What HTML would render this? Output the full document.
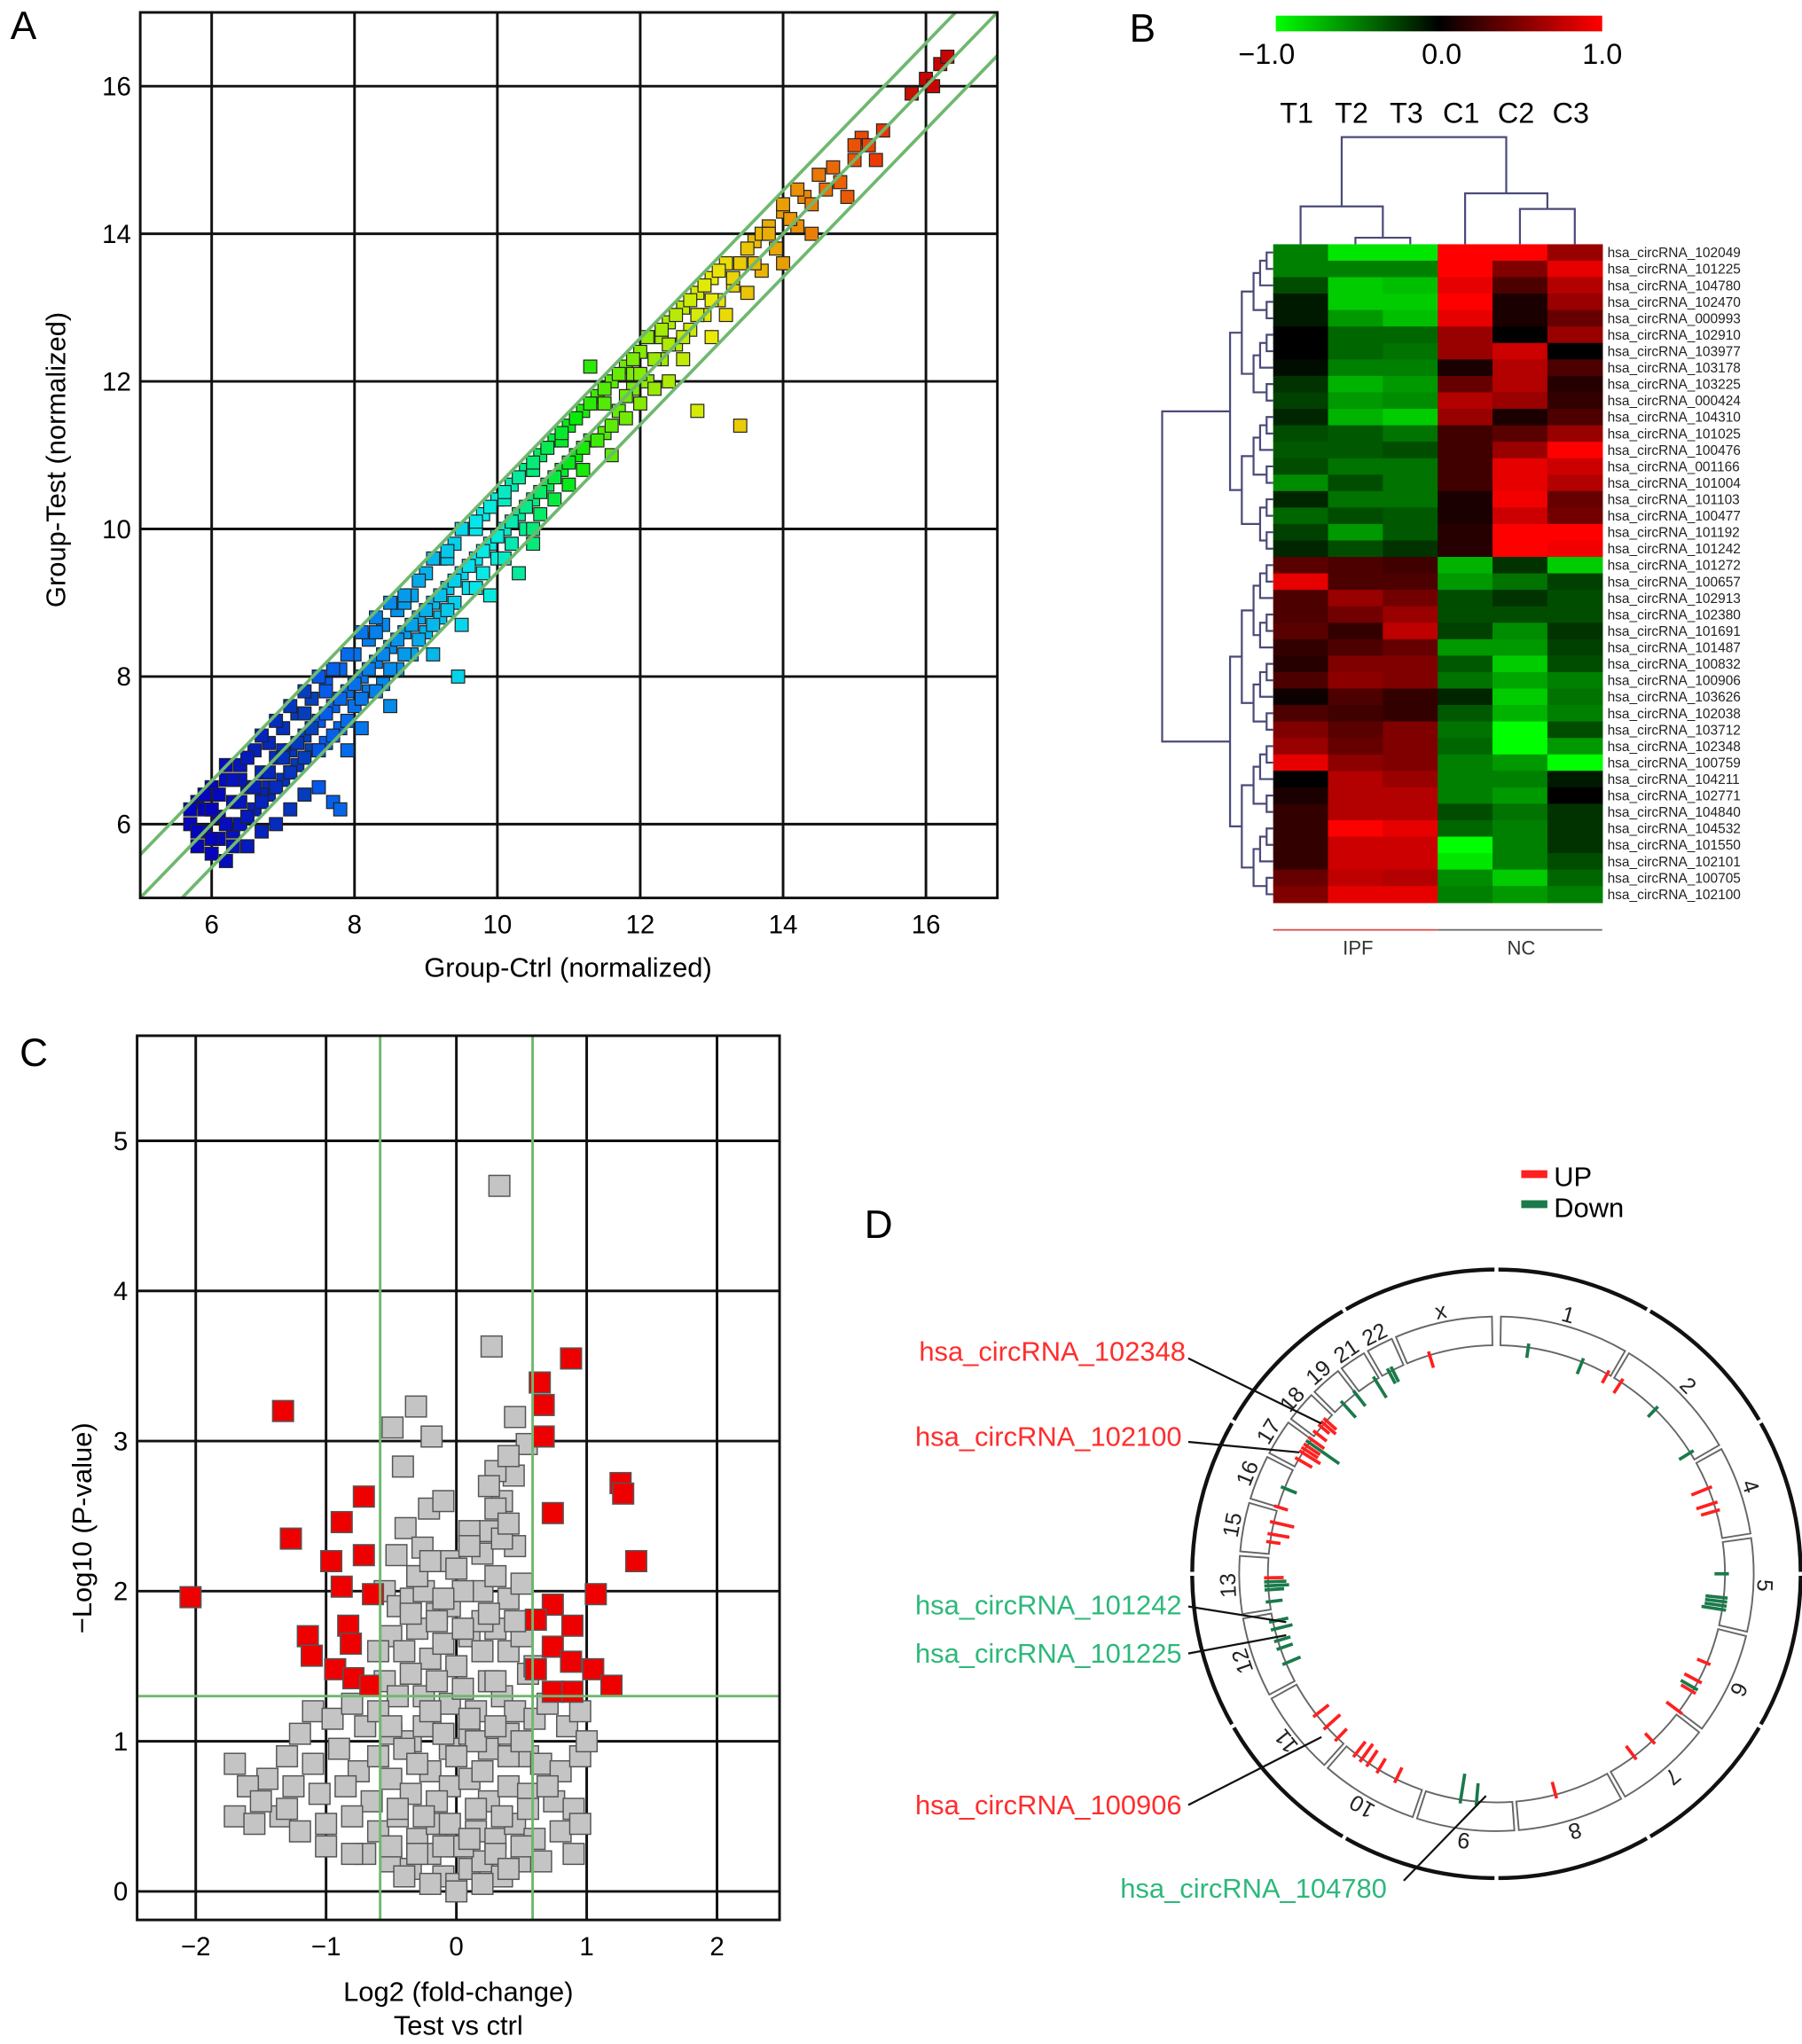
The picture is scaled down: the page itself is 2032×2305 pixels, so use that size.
<!DOCTYPE html>
<html><head><meta charset="utf-8"><style>
html,body{margin:0;padding:0;background:#fff}
svg{display:block}
text{font-family:"Liberation Sans",sans-serif}
</style></head><body>
<svg id="fig" xmlns="http://www.w3.org/2000/svg" width="2032" height="2305" viewBox="0 0 1380 1565" preserveAspectRatio="none">
<rect width="1380" height="1565" fill="#fff"/>
<defs>
<linearGradient id="cbar" x1="0" x2="1" y1="0" y2="0">
<stop offset="0" stop-color="#00ff00"/><stop offset="0.5" stop-color="#000"/><stop offset="1" stop-color="#ff0000"/>
</linearGradient>
</defs>
<text x="8" y="30" font-size="30">A</text>
<text x="865" y="32" font-size="30">B</text>
<text x="15" y="816" font-size="30">C</text>
<text x="662" y="948" font-size="30">D</text>
<g id="pa"></g>
<g id="pb"></g>
<g id="pc"></g>
<g id="pd"></g>
</svg>
<script>
// ---------- Panel A data ----------
const aTicks=[6,8,10,12,14,16];
const aCtrl=[5.7,5.8,5.8,5.9,6.0,6.0,6.1,6.1,6.2,6.2,6.3,6.3,6.4,6.4,6.5,6.5,6.6,6.6,6.7,6.7,6.8,6.8,6.9,6.9,7.0,7.0,7.1,7.1,7.2,7.2,7.3,7.3,7.4,7.4,7.5,7.5,7.6,7.6,7.7,7.7,7.8,7.8,7.9,7.9,8.0,8.0,8.1,8.1,8.2,8.2,8.3,8.4,8.4,8.5,8.5,8.6,8.6,8.7,8.8,8.8,8.9,9.0,9.0,9.1,9.1,9.2,9.2,9.3,9.4,9.4,9.5,9.5,9.6,9.6,9.7,9.8,9.8,9.9,9.9,10.0,10.0,10.1,10.2,10.2,10.3,10.3,10.4,10.4,10.5,10.6,10.6,10.7,10.8,10.8,10.9,11.0,11.0,11.1,11.2,11.2,11.3,11.3,11.4,11.5,11.6,11.6,11.7,11.8,11.8,11.9,12.0,12.0,12.1,12.2,12.2,12.3,12.4,12.4,12.5,12.6,12.6,12.7,12.8,12.8,12.9,13.0,13.0,13.1,13.2,13.2,13.3,13.4,13.4,13.5,13.6,13.7,13.8,13.9,14.0,14.0,14.2,14.3,14.4,14.6,14.7,14.9,15.0,15.1,15.3,15.8,16.0,16.1,16.2,16.3,7.8,9.45,10.5,5.9,6.2,6.5,6.8,7.1,7.0,6.4,6.0,6.7,7.3,7.6,8.3,8.7,9.3,9.7,10.1,10.5,10.9,11.5,11.9,12.3,
5.7,5.8,5.9,6.0,6.0,6.1,6.2,6.2,6.3,6.3,6.4,6.5,6.5,6.6,6.7,6.7,6.8,6.9,6.9,7.0,7.1,7.1,7.2,7.3,7.3,7.4,7.5,7.5,7.6,7.7,7.7,7.8,7.9,7.9,8.0,8.1,8.1,8.2,8.3,8.3,8.4,8.5,8.5,8.6,8.7,8.7,8.8,8.9,8.9,9.0,9.1,9.1,9.2,9.3,9.3,9.4,9.5,9.6,9.7,9.7,9.8,9.9,10.0,10.1,10.1,10.2,10.3,10.4,10.5,10.5,10.6,10.7,10.8,10.9,11.0,11.1,11.2,11.3,11.4,11.5,11.6,11.7,11.8,11.9,12.0,12.1,12.2,12.3,12.4,12.5,12.6,12.7,12.8,12.9,13.0,13.1,13.3,13.5,13.6,13.7,13.8,14.0,14.1,14.2,14.4,14.5,14.8,15.0,15.2,15.4];
const aTest=[6.0,5.7,6.3,5.9,6.5,5.6,6.1,5.8,6.6,5.5,6.3,5.9,6.8,6.0,6.5,5.7,7.0,6.2,6.7,5.9,7.1,6.4,6.9,6.0,7.3,6.6,7.0,6.2,7.5,6.8,7.2,6.4,7.7,7.0,6.5,7.4,7.9,7.1,6.3,7.6,8.1,7.3,7.8,7.0,8.3,7.6,8.0,7.3,8.5,7.8,8.2,8.7,7.9,8.4,7.6,8.9,8.1,8.6,9.1,8.3,8.8,9.4,8.6,9.0,8.3,9.6,8.8,9.2,9.8,9.0,9.4,8.7,10.0,9.2,9.6,10.2,9.4,9.8,9.1,10.4,9.6,10.0,10.6,9.8,10.2,9.4,10.8,10.0,10.4,11.0,10.2,10.6,11.2,10.4,10.8,11.4,10.6,11.0,11.6,10.8,12.2,11.2,11.8,11.3,12.0,11.0,11.6,12.2,11.5,11.9,12.4,11.7,12.0,12.6,11.9,12.3,12.8,12.0,12.5,13.0,12.3,12.7,13.2,11.6,12.9,13.4,12.6,13.1,13.6,12.9,13.3,11.4,13.6,13.2,13.9,13.5,14.1,13.8,14.3,13.6,14.1,14.5,14.0,14.6,14.9,14.5,15.0,15.3,15.0,15.9,16.1,16.0,16.3,16.4,6.2,8.0,9.8,6.2,6.0,6.1,6.5,6.7,7.0,6.6,6.2,6.4,7.5,7.8,8.6,9.0,9.6,10.0,10.4,10.8,11.2,11.7,12.1,12.6,
6.2,5.9,6.4,6.2,5.8,6.4,6.0,6.8,6.6,5.7,6.3,6.9,6.1,6.5,7.2,6.3,6.7,7.4,6.5,6.9,7.6,6.7,7.1,7.8,6.9,7.3,8.0,7.0,7.5,8.1,7.2,7.7,8.3,7.4,7.9,8.6,7.7,8.1,8.8,7.8,8.3,9.0,8.1,8.5,9.1,8.3,8.7,9.3,8.5,8.9,9.6,8.7,9.1,9.7,8.9,9.3,10.0,9.5,10.1,9.2,9.7,10.3,9.9,10.5,9.6,10.1,10.7,10.3,10.9,10.0,10.5,11.1,10.7,11.3,10.9,11.5,11.1,11.7,11.2,11.9,11.4,12.1,11.8,12.3,12.1,12.6,12.3,12.7,12.5,12.9,12.6,13.1,12.9,13.3,13.1,13.5,13.4,13.8,13.6,14.0,14.0,14.4,14.2,14.6,14.4,14.8,14.7,15.2,15.2,15.4];
// ---------- Panel B data ----------
const bCols=["T1","T2","T3","C1","C2","C3"];
const bRows=["102049","101225","104780","102470","000993","102910","103977","103178","103225","000424","104310","101025","100476","001166","101004","101103","100477","101192","101242","101272","100657","102913","102380","101691","101487","100832","100906","103626","102038","103712","102348","100759","104211","102771","104840","104532","101550","102101","100705","102100"];
const bVals=[
[-0.5,-0.9,-0.9,1,1,0.6],[-0.5,-0.5,-0.5,1,0.5,0.9],[-0.3,-0.8,-0.75,0.9,0.3,0.7],[-0.1,-0.8,-0.8,1,0.1,0.6],[-0.1,-0.6,-0.75,0.9,0.1,0.4],
[0,-0.4,-0.4,0.6,0,0.6],[0,-0.4,-0.45,0.6,0.8,0],[-0.05,-0.5,-0.5,0.1,0.7,0.3],[-0.2,-0.7,-0.6,0.4,0.7,0.15],[-0.25,-0.6,-0.55,0.7,0.6,0.2],
[-0.15,-0.7,-0.8,0.6,0.1,0.3],[-0.3,-0.35,-0.45,0.25,0.35,0.6],[-0.35,-0.35,-0.3,0.25,0.6,1],[-0.3,-0.45,-0.45,0.25,0.9,0.8],[-0.55,-0.3,-0.45,0.25,0.9,0.7],
[-0.15,-0.45,-0.45,0.1,0.95,0.4],[-0.4,-0.3,-0.35,0.1,0.8,0.45],[-0.25,-0.6,-0.35,0.15,1,1],[-0.15,-0.3,-0.2,0.15,1,0.95],
[0.35,0.3,0.25,-0.7,-0.2,-0.8],[0.9,0.3,0.3,-0.6,-0.45,-0.25],[0.3,0.6,0.45,-0.3,-0.2,-0.3],[0.3,0.45,0.6,-0.3,-0.3,-0.3],[0.35,0.2,0.75,-0.25,-0.55,-0.2],
[0.2,0.3,0.4,-0.6,-0.6,-0.25],[0.15,0.5,0.5,-0.35,-0.8,-0.3],[0.3,0.55,0.5,-0.45,-0.65,-0.5],[0.05,0.3,0.2,-0.15,-0.8,-0.45],[0.3,0.25,0.2,-0.35,-0.7,-0.5],
[0.5,0.35,0.5,-0.45,-1,-0.3],[0.6,0.4,0.5,-0.4,-1,-0.6],[0.9,0.55,0.5,-0.5,-0.6,-1],[0,0.7,0.6,-0.5,-0.5,-0.1],[0.1,0.7,0.7,-0.5,-0.6,0],
[0.2,0.7,0.7,-0.3,-0.45,-0.2],[0.2,1,0.9,-0.4,-0.5,-0.2],[0.2,0.8,0.8,-1,-0.5,-0.2],[0.2,0.8,0.8,-0.9,-0.5,-0.3],[0.4,0.75,0.7,-0.55,-0.8,-0.4],[0.5,0.9,0.9,-0.5,-0.6,-0.5]];
// ---------- Panel C data ----------
const cXTicks=[-2,-1,0,1,2];
const cYTicks=[0,1,2,3,4,5];
const cRedX=[-2.04,-1.33,-1.27,-0.71,-0.88,-0.71,-0.96,-0.88,-1.14,-1.11,-0.83,-0.81,-0.93,-0.79,-0.64,-0.66,0.64,0.67,0.67,0.88,0.74,1.26,1.28,1.38,1.07,0.74,0.61,0.89,0.74,0.61,0.88,1.05,1.19,0.74,0.89];
const cRedY=[1.96,3.2,2.35,2.63,2.46,2.24,2.2,2.03,1.7,1.57,1.77,1.65,1.48,1.42,1.98,1.37,3.39,3.24,3.03,3.55,2.52,2.72,2.65,2.2,1.98,1.91,1.81,1.77,1.63,1.48,1.53,1.48,1.37,1.33,1.33];
const cGrayX=[0.33,0.27,-0.31,-0.49,-0.19,0.45,-0.41,-0.21,-0.39,-0.26,-0.46,0.44,0.54,-0.55,-0.45,-0.35,-0.25,-0.15,0.2,0.3,0.4,0.5,0.25,0.35,0.3,0.4,0.2,0.45,-0.5,-0.4,-0.3,-0.2,-0.1,0.0,0.1,0.2,0.3,0.4,0.5,0.55,-0.55,-0.45,-0.35,-0.25,-0.15,-0.05,0.05,0.15,0.25,0.35,0.45,-1.1,-0.95,-0.8,-0.7,-0.6,0.6,0.7,0.85,0.95,-1.2,-0.5,-0.35,-0.2,-0.05,0.1,0.25,0.4,0.55,-1.3,-1.1,-0.9,-0.75,-0.6,0.65,0.8,0.95,-1.45,-1.25,-1.05,-0.85,-0.65,-0.5,-0.35,-0.2,-0.05,0.1,0.25,0.4,0.55,0.75,0.9,-1.7,-1.55,-1.35,-1.2,-1.0,-0.8,-0.6,-0.45,-0.3,-0.15,0.0,0.15,0.3,0.45,0.6,0.8,0.95,-0.5,-0.35,-0.2,-0.1,0.0,0.1,0.2,0.35,0.5,-0.7,0.65,-0.05,0.05,-1.6,-1.7,1.0,-0.1,0.1,-0.3,0.3,0.15,-0.15,0.05,-0.05,0.2,-0.25,
-0.5,-0.4,-0.3,-0.2,-0.1,0,0.1,0.2,0.3,0.4,0.5,-0.45,-0.25,-0.05,0.15,0.35,0.55,-0.5,-0.3,-0.1,0.1,0.3,0.5,-0.4,-0.2,0,0.2,0.4,-0.35,-0.15,0.05,0.25,0.45,-1.5,-1.3,-1.0,-0.8,0.7,0.9,-0.6,0.6,0.3,0.35,0.25,0.4,-0.3,-0.2,0,0.1,-0.1];
const cGrayY=[4.7,3.63,3.23,3.09,3.03,3.16,2.83,2.55,2.42,2.29,2.24,2.77,2.98,2.0,1.9,1.95,2.0,1.85,2.0,2.1,1.95,2.05,2.4,2.6,2.8,2.9,2.25,2.3,1.7,1.6,1.75,1.55,1.65,1.5,1.7,1.6,1.75,1.6,1.7,1.45,1.4,1.3,1.45,1.3,1.4,1.25,1.35,1.2,1.4,1.3,1.2,1.2,1.15,1.25,1.1,1.2,1.15,1.25,1.1,1.2,1.05,1.05,1.0,1.1,0.95,1.05,0.95,1.05,0.9,0.9,0.85,0.95,0.8,0.9,0.85,0.8,0.9,0.75,0.7,0.65,0.7,0.6,0.75,0.65,0.8,0.7,0.75,0.6,0.7,0.65,0.6,0.55,0.5,0.45,0.5,0.4,0.45,0.5,0.4,0.5,0.35,0.45,0.3,0.4,0.35,0.45,0.35,0.4,0.45,0.2,0.15,0.25,0.1,0.05,0.15,0.2,0.1,0.2,0.25,0.2,1.9,2.0,0.7,0.85,1.0,2.6,2.4,2.1,1.4,1.0,0.6,0.3,2.2,1.8,1.1,
1.1,0.95,0.85,1.2,1.05,0.9,1.15,0.8,1.1,0.9,1.0,0.55,0.5,0.45,0.55,0.5,0.55,0.3,0.25,0.3,0.35,0.25,0.3,0.1,0.05,0.0,0.05,0.15,1.85,1.8,1.75,1.85,1.8,0.6,0.55,0.3,0.25,0.7,0.25,1.6,1.5,2.55,2.35,2.7,2.45,2.1,2.2,2.15,2.3,1.95];
// ---------- Panel D data ----------
const dChroms=["1","2","4","5","6","7","8","9","10","11","12","13","15","16","17","18","19","21","22","x"];
const dStart=[1,31,61,82,104,128,151,176,199,222,242,261,275,287,298,307,315,323,330,337];
const dEnd=[30,60,81,103,127,150,175,198,221,241,260,274,286,297,306,314,322,329,336,359];
const dTickAng=[8,22,29,33,44,58,68,72,74,90,96,97,98,99,113,118,120,121,127,137,143,165,185,189,206,211,214,216,218,224,228,232,247,251,253,256,258,263,266,267,268,269,278,280,283,287,292,300,302,303,304,305,306,308,310,311,312,318,322,328,332,333,343];
const dTickType=["d","d","u","u","d","d","u","u","u","d","d","d","d","d","u","u","d","u","u","u","u","u","d","d","u","u","u","u","u","u","u","u","d","d","d","d","d","d","d","d","d","u","u","u","u","u","d","u","u","u","u","d","u","u","u","u","u","d","d","d","d","d","u"];
const dTickLen=[8,10,8,10,8,10,14,14,12,8,14,14,14,16,8,12,12,10,12,8,10,10,14,20,10,10,12,14,12,10,14,12,12,10,10,14,12,10,12,16,14,12,8,14,16,8,10,12,16,12,12,28,12,10,8,12,10,14,12,16,10,10,10];

const NS="http://www.w3.org/2000/svg";
function mk(tag,attrs,parent){const e=document.createElementNS(NS,tag);for(const k in attrs)e.setAttribute(k,attrs[k]);parent.appendChild(e);return e;}

// ================= PANEL A =================
(function(){
const g=document.getElementById('pa');
const L=107.4,R=763.8,T=9.5,B=687.5,x0=5,x1=17,y0=5,y1=17;
const sx=v=>L+(v-x0)/(x1-x0)*(R-L), sy=v=>B-(v-y0)/(y1-y0)*(B-T);
aTicks.forEach(t=>{
 let l=mk('line',{x1:sx(t),x2:sx(t),y1:T,y2:B,stroke:'#111','stroke-width':2},g);
 
 
 l=mk('line',{x1:L,x2:R,y1:sy(t),y2:sy(t),stroke:'#111','stroke-width':2},g);
 
 
 let tx=mk('text',{x:sx(t),y:B+27,'font-size':20,'text-anchor':'middle'},g);tx.textContent=t;
 
 
 tx=mk('text',{x:L-7,y:sy(t)+7,'font-size':20,'text-anchor':'end'},g);tx.textContent=t;
 
 
});
const hx=[6,8.5,10,11.5,13,14.5,16], hh=[240,205,175,100,60,30,0];
function hue(x){if(x<=hx[0])return hh[0];for(let i=1;i<hx.length;i++){if(x<=hx[i]){const f=(x-hx[i-1])/(hx[i]-hx[i-1]);return hh[i-1]+f*(hh[i]-hh[i-1]);}}return 0;}
const pts=mk('g',{},g);


for(let i=0;i<aCtrl.length;i++){
 const x=aCtrl[i],y=aTest[i];
 let li=x<7.5?38:(x>15.5?40:47);
 const r=mk('rect',{x:sx(x)-5,y:sy(y)-5,width:10,height:10,fill:`hsl(${hue(x)},95%,${li}%)`,stroke:'#222','stroke-width':0.8},pts);
 
 
}
[-0.585,0,0.585].forEach(o=>{
 let xa=x0,ya=x0+o; if(ya<y0){ya=y0;xa=y0-o;}
 let xb=x1,yb=x1+o; if(yb>y1){yb=y1;xb=y1-o;}
 const l=mk('line',{x1:sx(xa),y1:sy(ya),x2:sx(xb),y2:sy(yb),stroke:'#6fb86f','stroke-width':2.5},g);
 
 
});
const fr=mk('rect',{x:L,y:T,width:R-L,height:B-T,fill:'none',stroke:'#111','stroke-width':2},g);


let t=mk('text',{x:435,y:748,'font-size':21,'text-anchor':'middle'},g);t.textContent='Group-Ctrl (normalized)';


t=mk('text',{x:50,y:352,'font-size':21,'text-anchor':'middle',transform:'rotate(-90 50 352)'},g);t.textContent='Group-Test (normalized)';


})();

// ================= PANEL B =================
(function(){
const g=document.getElementById('pb');
const L=975,cw=42,T=187,rh=12.6;
const col=v=>v>=0?`rgb(${Math.round(255*v)},0,0)`:`rgb(0,${Math.round(255*-v)},0)`;
bVals.forEach((row,ri)=>row.forEach((v,ci)=>{
 const r=mk('rect',{x:L+ci*cw,y:T+ri*rh,width:cw+0.5,height:rh+0.5,fill:col(v)},g);
 
 
}));
bRows.forEach((n,ri)=>{
 const t=mk('text',{x:1231,y:T+ri*rh+10,'font-size':10.5,fill:'#222'},g);t.textContent='hsa_circRNA_'+n;
 
 
});
bCols.forEach((c,ci)=>{
 const t=mk('text',{x:L+ci*cw+18,y:94,'font-size':22,'text-anchor':'middle'},g);t.textContent=c;
 
 
});
const cb=mk('rect',{x:977,y:12,width:250,height:12,fill:'url(#cbar)'},g);


[['−1.0',970],['0.0',1104],['1.0',1227]].forEach(a=>{
 const t=mk('text',{x:a[1],y:49,'font-size':22,'text-anchor':'middle'},g);t.textContent=a[0];
 
 
});
const dc='#4a4a7a';
const path=(d,name)=>{const p=mk('path',{d:d,stroke:dc,'stroke-width':1.5,fill:'none'},g);};
const cx=i=>L+i*cw+21;
path(`M${cx(1)} 187V182H${cx(2)}V187 M${cx(0)} 187V158H${(cx(1)+cx(2))/2}V182 M${cx(4)} 187V160H${cx(5)}V187 M${cx(3)} 187V148H${(cx(4)+cx(5))/2}V160 M${(cx(0)+(cx(1)+cx(2))/2)/2} 158V105H${(cx(3)+(cx(4)+cx(5))/2)/2}V148`,'column-dendrogram');
const ry=i=>T+i*rh+rh/2;
let d='';
const rowsUp=[...Array(19).keys()], rowsDn=[...Array(21).keys()].map(i=>i+19);
function tree(idx){
 if(idx.length===1)return {y:ry(idx[0]),x:975};
 const m=Math.ceil(idx.length/2);
 const a=tree(idx.slice(0,m)),b=tree(idx.slice(m));
 const x=Math.min(a.x,b.x)-(idx.length>8?9:5);
 d+=`M${a.x} ${a.y}H${x}V${b.y}H${b.x}`;
 return {x:x,y:(a.y+b.y)/2};
}
const u=tree(rowsUp),dn=tree(rowsDn);
const jx=890;
d+=`M${u.x} ${u.y}H${jx}V${dn.y}H${dn.x}`;
path(d,'row-dendrogram');
const gl=mk('line',{x1:975,x2:1101,y1:712,y2:712,stroke:'#d44','stroke-width':1.2},g);

const gl2=mk('line',{x1:1101,x2:1227,y1:712,y2:712,stroke:'#666','stroke-width':1.2},g);

let t=mk('text',{x:1040,y:731,'font-size':15,'text-anchor':'middle',fill:'#333'},g);t.textContent='IPF';

t=mk('text',{x:1165,y:731,'font-size':15,'text-anchor':'middle',fill:'#333'},g);t.textContent='NC';

})();

// ================= PANEL C =================
(function(){
const g=document.getElementById('pc');
const L=105,R=597,T=793,B=1470,x0=-2.45,x1=2.48,y0=-0.19,y1=5.7;
const sx=v=>L+(v-x0)/(x1-x0)*(R-L), sy=v=>B-(v-y0)/(y1-y0)*(B-T);
cXTicks.forEach(t=>{
 const l=mk('line',{x1:sx(t),x2:sx(t),y1:T,y2:B,stroke:'#111','stroke-width':2},g);
 
 const tx=mk('text',{x:sx(t),y:B+27,'font-size':20,'text-anchor':'middle'},g);tx.textContent=t<0?'−'+(-t):t;
 
});
cYTicks.forEach(t=>{
 const l=mk('line',{x1:L,x2:R,y1:sy(t),y2:sy(t),stroke:'#111','stroke-width':2},g);
 
 const tx=mk('text',{x:L-7,y:sy(t)+7,'font-size':20,'text-anchor':'end'},g);tx.textContent=t;
 
});
const sq=(x,y,fill,name)=>{const r=mk('rect',{x:sx(x)-8,y:sy(y)-8,width:16,height:16,fill:fill,stroke:'#555','stroke-width':1},g);};
cGrayX.forEach((x,i)=>sq(x,cGrayY[i],'#c4c4c4','c-point-ns'));
cRedX.forEach((x,i)=>sq(x,cRedY[i],'#ee0000','c-point-sig'));
[-0.585,0.585].forEach(v=>{const l=mk('line',{x1:sx(v),x2:sx(v),y1:T,y2:B,stroke:'#6fb86f','stroke-width':2},g);});
const hl=mk('line',{x1:L,x2:R,y1:sy(1.301),y2:sy(1.301),stroke:'#6fb86f','stroke-width':2},g);

const fr=mk('rect',{x:L,y:T,width:R-L,height:B-T,fill:'none',stroke:'#111','stroke-width':2},g);

let t=mk('text',{x:351,y:1532,'font-size':21,'text-anchor':'middle'},g);t.textContent='Log2 (fold-change)';

t=mk('text',{x:351,y:1558,'font-size':21,'text-anchor':'middle'},g);t.textContent='Test vs ctrl';

t=mk('text',{x:70,y:1170,'font-size':21,'text-anchor':'middle',transform:'rotate(-90 70 1170)'},g);t.textContent='−Log10 (P-value)';

})();

// ================= PANEL D =================
(function(){
const g=document.getElementById('pd');
const cx=1146,cy=1205;
const P=(r,a)=>{const t=a*Math.PI/180;return [cx+r*Math.sin(t),cy-r*Math.cos(t)];};
const RO=233;
const oc=mk('circle',{cx:cx,cy:cy,r:RO,fill:'none',stroke:'#111','stroke-width':3},g);

for(let a=0;a<360;a+=30){
 const [ax,ay]=P(RO-4,a),[bx,by]=P(RO+4,a);
 const l=mk('line',{x1:ax,y1:ay,x2:bx,y2:by,stroke:'#fff','stroke-width':3},g);
 
}
const r1=175,r2=197;
dChroms.forEach((c,i)=>{
 const a=dStart[i],b=dEnd[i],lg=(b-a)>180?1:0;
 const [ax,ay]=P(r2,a),[bx,by]=P(r2,b),[cx1,cy1]=P(r1,b),[dx,dy]=P(r1,a);
 const p=mk('path',{d:`M${ax} ${ay}A${r2} ${r2} 0 ${lg} 1 ${bx} ${by}L${cx1} ${cy1}A${r1} ${r1} 0 ${lg} 0 ${dx} ${dy}Z`,fill:'none',stroke:'#666','stroke-width':1.3},g);
 
 const m=(a+b)/2,[lx,ly]=P(206,m);
 const t=mk('text',{x:lx,y:ly+6,'font-size':17,'text-anchor':'middle',fill:'#222',transform:`rotate(${m} ${lx} ${ly})`},g);t.textContent=c;
 
});
dTickAng.forEach((a,i)=>{
 const [x1,y1]=P(r1+3,a),[x2,y2]=P(r1-dTickLen[i],a);
 const l=mk('line',{x1:x1,y1:y1,x2:x2,y2:y2,stroke:dTickType[i]==='u'?'#ff2020':'#1a7a4a','stroke-width':2.5},g);
 
 
});
const labs=[['hsa_circRNA_102348',908,1042,'#ff2d2d',910,1040,1012,1090],['hsa_circRNA_102100',905,1107,'#ff2d2d',910,1104,995,1112],['hsa_circRNA_101242',905,1236,'#2db87a',910,1230,985,1242],['hsa_circRNA_101225',905,1273,'#2db87a',910,1266,985,1252],['hsa_circRNA_100906',905,1389,'#ff2d2d',910,1382,1012,1330],['hsa_circRNA_104780',960,1453,'#2db87a',1075,1440,1138,1375]];
labs.forEach(l=>{
 const ln=mk('line',{x1:l[4],y1:l[5],x2:l[6],y2:l[7],stroke:'#111','stroke-width':1.5},g);
 
 const t=mk('text',{x:l[1],y:l[2],'font-size':21,'text-anchor':l[0].endsWith('104780')?'middle':'end',fill:l[3]},g);t.textContent=l[0];
 
});
let r=mk('rect',{x:1165,y:896,width:20,height:6,fill:'#ff2020'},g);

r=mk('rect',{x:1165,y:919,width:20,height:6,fill:'#1a7a4a'},g);

let t=mk('text',{x:1190,y:908,'font-size':21},g);t.textContent='UP';

t=mk('text',{x:1190,y:932,'font-size':21},g);t.textContent='Down';

})();
</script>
</body></html>
